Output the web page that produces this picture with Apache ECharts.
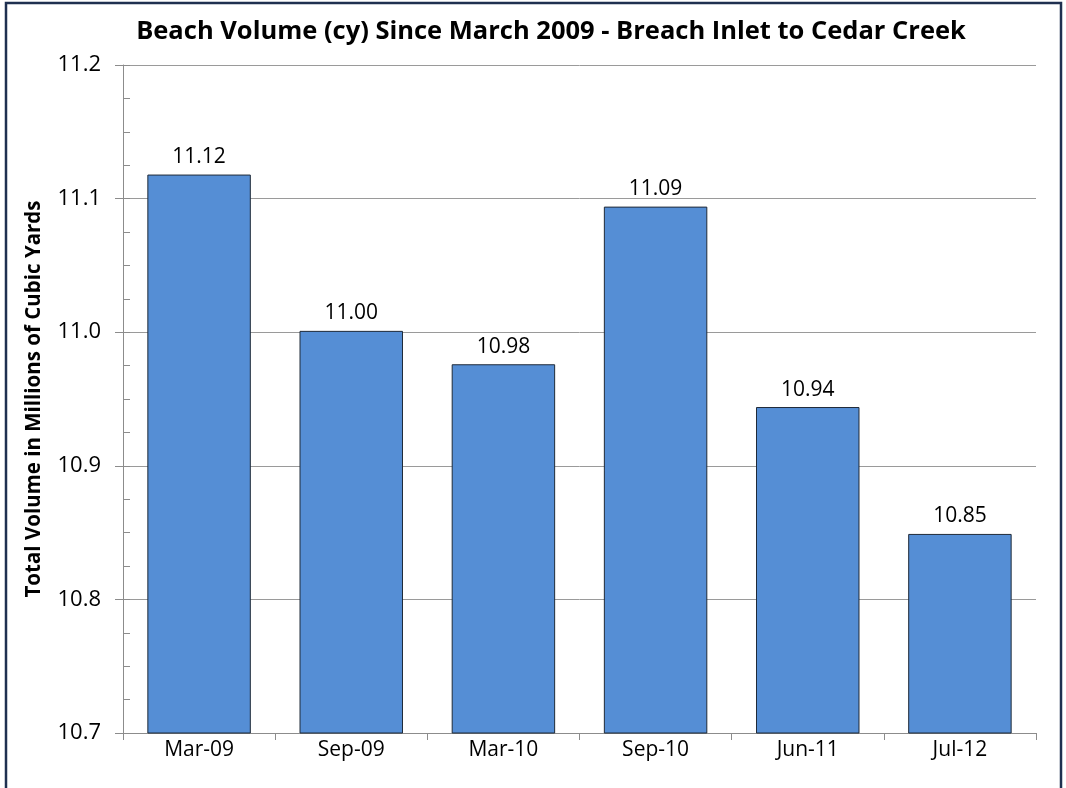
<!DOCTYPE html>
<html>
<head>
<meta charset="utf-8">
<script src="https://cdn.jsdelivr.net/npm/echarts@6/dist/echarts.min.js"></script>
<style>
    html, body { margin: 0; padding: 0; background: #fff; }
    #main { width: 1066px; height: 788px; }
</style>
</head>
<body>
<div id="main"></div>
<script>
    var categories = ['Mar-09', 'Sep-09', 'Mar-10', 'Sep-10', 'Jun-11', 'Jul-12'];
    var volumes = [11.118, 11.001, 10.976, 11.094, 10.944, 10.849];
    var yMin = 10.7;
    var yMax = 11.2;

    var font = 'Open Sans';
    var myChart = echarts.init(document.getElementById('main'));

    var option = {
        backgroundColor: '#fff',
        animation: false,
        title: {
            text: 'Beach Volume (cy) Since March 2009 - Breach Inlet to Cedar Creek',
            left: 546,
            textAlign: 'center',
            top: 14,
            textStyle: {
                fontFamily: font,
                fontWeight: 'bold',
                fontSize: 25.5,
                color: '#000'
            }
        },
        graphic: [{
            type: 'rect',
            shape: {x: 6, y: 3, width: 1055, height: 820},
            style: {fill: 'none', stroke: '#1F3050', lineWidth: 2.5},
            silent: true
        }],
        grid: {
            left: 123,
            right: 30,
            top: 65,
            bottom: 55
        },
        xAxis: {
            type: 'category',
            data: categories,
            boundaryGap: true,
            axisLine: {lineStyle: {color: '#8c8c8c', width: 1}},
            axisTick: {show: true, alignWithLabel: false, length: 7, lineStyle: {color: '#8c8c8c'}},
            axisLabel: {
                margin: 7,
                fontFamily: font,
                fontSize: 21,
                color: '#000'
            }
        },
        yAxis: [{
            type: 'value',
            min: yMin,
            max: yMax,
            interval: 0.1,
            name: 'Total Volume in Millions of Cubic Yards',
            nameLocation: 'middle',
            nameGap: 78,
            nameTextStyle: {
                fontFamily: font,
                fontWeight: 'bold',
                fontSize: 20.5,
                color: '#000'
            },
            axisLine: {show: true, lineStyle: {color: '#8c8c8c', width: 1}},
            axisTick: {show: true, length: 8, lineStyle: {color: '#8c8c8c'}},
            axisLabel: {
                margin: 22,
                fontFamily: font,
                fontSize: 22,
                color: '#000',
                formatter: function (v) { return v.toFixed(1); }
            },
            splitLine: {show: true, lineStyle: {color: '#9a9a9a', width: 1}}
        }, {
            // minor ticks drawn inside the plot
            type: 'value',
            min: yMin,
            max: yMax,
            interval: 0.025,
            position: 'left',
            axisLine: {show: false},
            axisTick: {show: true, inside: true, length: 7, lineStyle: {color: '#8c8c8c'}},
            axisLabel: {show: false},
            splitLine: {show: false}
        }],
        series: [{
            type: 'bar',
            data: volumes,
            barWidth: '68%',
            itemStyle: {
                color: '#558ED5',
                borderColor: '#1F2A38',
                borderWidth: 1
            },
            label: {
                show: true,
                position: 'top',
                distance: 7,
                fontFamily: font,
                fontSize: 21,
                color: '#000',
                formatter: function (p) { return p.value.toFixed(2); }
            }
        }]
    };

    myChart.setOption(option);
</script>
</body>
</html>
